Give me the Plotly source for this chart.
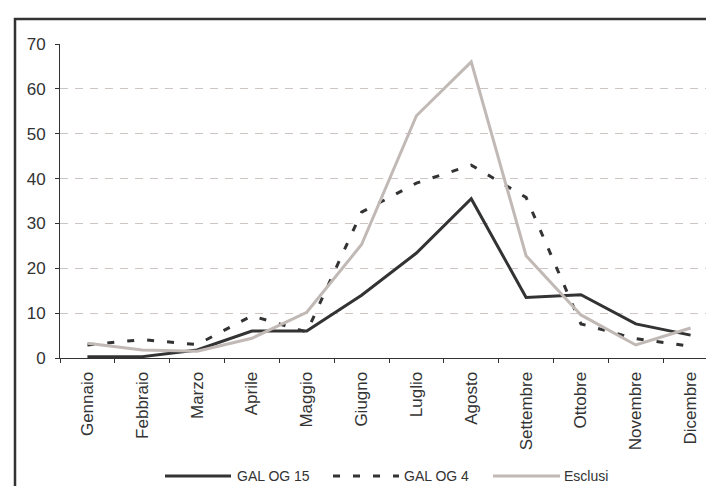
import plotly.graph_objects as go

months = ["Gennaio", "Febbraio", "Marzo", "Aprile", "Maggio", "Giugno",
          "Luglio", "Agosto", "Settembre", "Ottobre", "Novembre", "Dicembre"]
gal_og_15 = [0.3, 0.3, 1.8, 6.0, 6.0, 14.0, 23.4, 35.5, 13.5, 14.1, 7.6, 5.1]
gal_og_4 = [2.9, 4.1, 3.0, 9.4, 5.8, 32.5, 39.0, 43.0, 35.8, 7.6, 4.3, 2.6]
esclusi = [3.3, 1.8, 1.5, 4.4, 10.2, 25.3, 54.0, 66.0, 22.8, 9.6, 2.9, 6.7]
y_ticks = [0, 10, 20, 30, 40, 50, 60, 70]

DARK = "#333333"
GRAY = "#c1b9b5"
FONT = "Liberation Sans, Arial, sans-serif"

fig = go.Figure()
fig.add_trace(go.Scatter(x=months, y=gal_og_15, mode="lines", name="GAL OG 15",
                         line=dict(color=DARK, width=3)))
fig.add_trace(go.Scatter(x=months, y=gal_og_4, mode="lines", name="GAL OG 4",
                         line=dict(color=DARK, width=3, dash="7px,13px")))
fig.add_trace(go.Scatter(x=months, y=esclusi, mode="lines", name="Esclusi",
                         line=dict(color=GRAY, width=3)))

W, H = 714, 486
L, R, T, B = 52, 4, 36, 136
pw, ph = W - L - R, H - T - B

def px(x):
    return (x - L) / pw

def py(y):
    return (H - B - y) / ph

shapes = [
    # outer frame (extends beyond the picture on right/bottom)
    dict(type="rect", xref="paper", yref="paper", x0=px(7), x1=px(730),
         y0=py(11), y1=py(500), line=dict(color=DARK, width=2.5),
         fillcolor="rgba(0,0,0,0)", layer="above"),
]
annotations = []
legend_items = [
    ("GAL OG 15", DARK, "solid", 157, 223, 227),
    ("GAL OG 4", DARK, "7px,13px", 325, 391, 394),
    ("Esclusi", GRAY, "solid", 485, 552, 554),
]
ly = 468
for name, color, dash, x0, x1, tx in legend_items:
    shapes.append(dict(type="line", xref="paper", yref="paper",
                       x0=px(x0), x1=px(x1), y0=py(ly), y1=py(ly),
                       line=dict(color=color, width=3, dash=dash)))
    annotations.append(dict(text=name, xref="paper", yref="paper",
                            x=px(tx), y=py(ly), xanchor="left", yanchor="middle",
                            showarrow=False,
                            font=dict(family=FONT, size=14, color=DARK)))

fig.update_layout(
    width=W, height=H,
    margin=dict(l=L, r=R, t=T, b=B, pad=0),
    paper_bgcolor="white", plot_bgcolor="white",
    showlegend=False,
    font=dict(family=FONT, size=17, color=DARK),
    shapes=shapes, annotations=annotations,
    xaxis=dict(
        type="category", range=[-0.5, 11.5], tickson="boundaries",
        showgrid=False, showline=True, linecolor=DARK, linewidth=1,
        ticks="outside", ticklen=4, tickcolor=DARK, tickangle=-90,
        ticklabelstandoff=6, zeroline=False,
        tickfont=dict(family=FONT, size=17, color=DARK),
    ),
    yaxis=dict(
        range=[0, 70], tickvals=y_ticks, showgrid=True,
        gridcolor="#cdc5c1", griddash="8px,7px", gridwidth=1,
        showline=True, linecolor=DARK, linewidth=1,
        ticks="outside", ticklen=4, tickcolor=DARK,
        ticklabelstandoff=6, zeroline=False,
        tickfont=dict(family=FONT, size=17, color=DARK),
    ),
)

fig.write_html("out.html")
